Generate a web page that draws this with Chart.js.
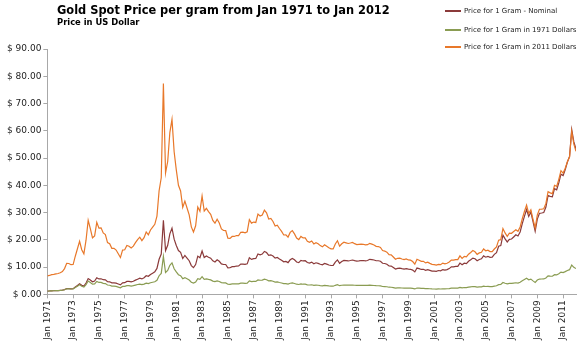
<!DOCTYPE html>
<html>
<head>
<meta charset="utf-8">
<script src="https://cdn.jsdelivr.net/npm/chart.js@4.4.1/dist/chart.umd.min.js"></script>
<style>
  html, body { margin: 0; padding: 0; background: #fff; }
  #wrap { position: relative; width: 584px; height: 346px; overflow: hidden; font-family: "DejaVu Sans", sans-serif; }
  #c { position: absolute; left: 0; top: 0; }
  #title { position: absolute; left: 57px; top: 5px; font-size: 11.4px; font-weight: bold; line-height: 1; color: #000; white-space: nowrap; }
  #subtitle { position: absolute; left: 57px; top: 18px; font-size: 8.4px; font-weight: bold; line-height: 1; color: #000; white-space: nowrap; }
  .leg { position: absolute; left: 445px; height: 10px; display: flex; align-items: center; font-size: 7px; color: #222; white-space: nowrap; }
  .leg span.sw { display: inline-block; width: 16px; height: 1.3px; margin-right: 3px; }
</style>
</head>
<body>
<div id="wrap">
  <canvas id="c" width="584" height="346"></canvas>
  <div id="title">Gold Spot Price per gram from Jan 1971 to Jan 2012</div>
  <div id="subtitle">Price in US Dollar</div>
  <div class="leg" style="top:6px"><span class="sw" style="background:#8b3a3a"></span>Price for 1 Gram - Nominal</div>
  <div class="leg" style="top:25px"><span class="sw" style="background:#8a9c52"></span>Price for 1 Gram in 1971 Dollars</div>
  <div class="leg" style="top:42px"><span class="sw" style="background:#e8782a"></span>Price for 1 Gram in 2011 Dollars</div>
</div>
<script>
// Sampling: every 2 months (Jan, Mar, May, Jul, Sep, Nov) from Jan 1971 to Jan 2012
const startYear = 1971;
const stepMonths = 2;

const seriesNames = ["Price for 1 Gram - Nominal", "Price for 1 Gram in 1971 Dollars", "Price for 1 Gram in 2011 Dollars"];

const tickYears = [1971,1973,1975,1977,1979,1981,1983,1985,1987,1989,1991,1993,1995,1997,1999,2001,2003,2005,2007,2009,2011];

const yTicks = [0,10,20,30,40,50,60,70,80,90];

const nominal = [
  1.22,1.25,1.30,1.32,1.35,1.38,
  1.47,1.55,1.76,2.11,2.11,2.02,
  2.09,2.71,3.28,3.86,3.31,3.05,
  4.15,5.79,5.24,4.60,4.86,6.11,
  5.66,5.72,5.37,5.31,4.63,4.60,
  4.21,4.24,4.12,3.79,3.47,4.21,
  4.28,4.76,4.73,4.60,4.82,5.21,
  5.56,5.92,5.66,6.08,6.82,6.62,
  7.30,7.78,8.26,9.52,12.86,14.79,
  27.17,16.08,18.01,22.19,24.28,20.26,
  17.91,16.08,15.43,13.15,14.28,13.31,
  12.35,10.55,9.81,10.93,14.02,13.44,
  15.92,13.50,14.05,13.60,13.25,12.28,
  11.90,12.67,12.12,11.19,10.96,10.96,
  9.74,9.77,10.16,10.19,10.39,10.45,
  11.09,11.09,11.00,11.19,13.41,12.83,
  13.12,13.15,14.79,14.50,14.79,15.76,
  15.34,14.28,14.50,14.05,13.28,13.54,
  12.99,12.54,11.93,12.06,11.64,12.67,
  13.18,12.67,11.86,11.64,12.48,12.25,
  12.35,11.67,11.48,11.83,11.22,11.58,
  11.38,11.06,10.84,11.35,11.09,10.77,
  10.58,10.61,11.83,12.64,11.41,12.03,
  12.44,12.35,12.25,12.41,12.60,12.35,
  12.19,12.28,12.41,12.41,12.32,12.41,
  12.86,12.73,12.60,12.32,12.32,12.15,
  11.41,11.32,11.06,10.42,10.39,9.84,
  9.29,9.55,9.61,9.42,9.29,9.45,
  9.23,9.20,8.91,8.23,9.65,9.42,
  9.13,9.20,8.84,9.07,8.81,8.55,
  8.55,8.46,8.75,8.62,9.10,8.87,
  9.07,9.45,10.10,10.10,10.26,10.26,
  11.45,10.84,11.41,11.29,12.15,12.67,
  13.31,13.05,12.35,12.80,13.05,14.12,
  13.63,13.95,13.57,13.63,14.66,15.31,
  17.65,17.91,21.74,20.35,19.23,20.19,
  20.29,21.06,21.86,21.41,22.89,25.92,
  28.59,31.13,28.59,30.19,26.66,23.15,
  27.59,29.71,29.84,30.03,32.03,36.27,
  35.95,35.79,38.75,38.36,40.87,44.08,
  43.60,45.79,48.55,50.58,60.45,55.92,
  53.25
];

const dollars1971 = [
  1.22,1.25,1.30,1.32,1.35,1.38,
  1.43,1.50,1.70,2.05,2.04,1.96,
  1.97,2.52,3.01,3.50,2.95,2.68,
  3.58,4.89,4.34,3.73,3.86,4.75,
  4.37,4.39,4.06,3.95,3.42,3.35,
  3.04,3.04,2.93,2.68,2.43,2.92,
  2.94,3.22,3.18,3.06,3.19,3.41,
  3.61,3.78,3.55,3.74,4.12,3.93,
  4.25,4.44,4.63,5.17,6.84,7.70,
  13.92,8.01,8.77,10.68,11.55,9.41,
  8.22,7.20,6.83,5.74,6.15,5.70,
  5.25,4.46,4.12,4.53,5.77,5.49,
  6.49,5.50,5.68,5.47,5.29,4.88,
  4.70,4.96,4.72,4.32,4.22,4.20,
  3.71,3.69,3.82,3.82,3.88,3.88,
  4.10,4.11,4.06,4.13,4.93,4.70,
  4.77,4.75,5.30,5.17,5.24,5.56,
  5.38,4.97,5.01,4.81,4.51,4.57,
  4.35,4.16,3.92,3.93,3.78,4.09,
  4.21,3.99,3.72,3.62,3.83,3.72,
  3.73,3.51,3.44,3.52,3.33,3.41,
  3.35,3.22,3.14,3.27,3.18,3.08,
  3.01,3.00,3.32,3.54,3.18,3.34,
  3.44,3.40,3.36,3.39,3.43,3.35,
  3.29,3.30,3.31,3.31,3.27,3.28,
  3.37,3.31,3.26,3.17,3.16,3.10,
  2.89,2.86,2.79,2.62,2.61,2.47,
  2.32,2.38,2.39,2.34,2.30,2.33,
  2.27,2.26,2.17,1.99,2.32,2.26,
  2.18,2.18,2.08,2.12,2.05,1.98,
  1.96,1.93,1.98,1.96,2.06,2.02,
  2.06,2.13,2.27,2.27,2.30,2.30,
  2.54,2.38,2.51,2.48,2.65,2.77,
  2.89,2.81,2.64,2.74,2.78,3.00,
  2.88,2.91,2.83,2.82,3.00,3.14,
  3.58,3.61,4.34,4.06,3.83,4.05,
  4.03,4.15,4.26,4.16,4.45,4.99,
  5.47,5.89,5.34,5.58,4.95,4.38,
  5.25,5.62,5.63,5.65,6.01,6.78,
  6.70,6.65,7.20,7.13,7.60,8.17,
  8.01,8.33,8.75,9.06,10.76,9.92,
  9.45
];

const dollars2011 = [
  6.77,6.94,7.23,7.32,7.50,7.66,
  7.92,8.36,9.45,11.37,11.33,10.88,
  10.94,13.99,16.73,19.44,16.38,14.88,
  19.87,27.18,24.12,20.74,21.44,26.41,
  24.29,24.39,22.55,21.95,19.01,18.59,
  16.90,16.90,16.26,14.87,13.50,16.24,
  16.36,17.91,17.64,17.02,17.70,18.95,
  20.07,20.98,19.71,20.79,22.90,21.84,
  23.61,24.68,25.70,28.71,38.00,42.78,
  77.32,44.50,48.72,59.34,64.18,52.29,
  45.67,40.00,37.92,31.90,34.19,31.67,
  29.18,24.76,22.88,25.16,32.05,30.51,
  36.04,30.53,31.55,30.37,29.38,27.12,
  26.09,27.58,26.20,24.01,23.43,23.36,
  20.60,20.52,21.24,21.24,21.58,21.55,
  22.77,22.84,22.57,22.97,27.40,26.13,
  26.52,26.38,29.44,28.73,29.12,30.87,
  29.91,27.62,27.83,26.74,25.07,25.39,
  24.16,23.09,21.78,21.86,21.00,22.73,
  23.37,22.18,20.66,20.09,21.26,20.69,
  20.74,19.49,19.10,19.58,18.50,18.97,
  18.59,17.89,17.42,18.18,17.66,17.09,
  16.71,16.67,18.47,19.65,17.68,18.55,
  19.12,18.89,18.67,18.84,19.05,18.59,
  18.27,18.34,18.41,18.37,18.15,18.22,
  18.72,18.41,18.11,17.62,17.54,17.20,
  16.08,15.88,15.48,14.58,14.50,13.71,
  12.89,13.22,13.28,12.98,12.77,12.97,
  12.63,12.53,12.05,11.08,12.90,12.54,
  12.13,12.10,11.55,11.79,11.37,10.99,
  10.91,10.73,11.02,10.88,11.46,11.21,
  11.42,11.85,12.59,12.59,12.76,12.76,
  14.13,13.21,13.95,13.76,14.74,15.37,
  16.06,15.63,14.67,15.20,15.43,16.64,
  15.98,16.19,15.70,15.69,16.64,17.42,
  19.87,20.05,24.13,22.53,21.29,22.48,
  22.40,23.06,23.66,23.11,24.71,27.73,
  30.40,32.72,29.69,30.99,27.52,24.34,
  29.17,31.23,31.27,31.38,33.37,37.68,
  37.23,36.95,40.01,39.61,42.20,45.38,
  44.48,46.28,48.62,50.34,59.78,55.13,
  52.50
];

const colors = ["#8b3a3a", "#8a9c52", "#e8782a"];

function toPoints(arr) {
  return arr.map((v, i) => ({ x: startYear + (i * stepMonths) / 12, y: v }));
}

const axisColor = "#a8a8a8";
const tickFont = { family: "DejaVu Sans", size: 9 };

new Chart(document.getElementById("c"), {
  type: "line",
  data: {
    datasets: [
      { label: seriesNames[0], data: toPoints(nominal), borderColor: colors[0], order: 2 },
      { label: seriesNames[1], data: toPoints(dollars1971), borderColor: colors[1], order: 1 },
      { label: seriesNames[2], data: toPoints(dollars2011), borderColor: colors[2], order: 0 }
    ]
  },
  options: {
    responsive: false,
    animation: false,
    events: [],
    layout: { padding: { left: 5, right: 8, top: 49, bottom: 4 } },
    elements: {
      line: { borderWidth: 1.2, tension: 0, fill: false },
      point: { radius: 0 }
    },
    plugins: { legend: { display: false }, title: { display: false }, tooltip: { enabled: false } },
    scales: {
      x: {
        type: "linear",
        min: 1971,
        max: 2012,
        afterBuildTicks: (scale) => { scale.ticks = tickYears.map(v => ({ value: v })); },
        ticks: {
          autoSkip: false,
          minRotation: 90,
          maxRotation: 90,
          padding: 2,
          color: "#222",
          font: tickFont,
          callback: (v) => "Jan " + v
        },
        grid: { display: true, drawOnChartArea: false, drawTicks: true, tickLength: 4, color: axisColor },
        border: { display: true, color: axisColor }
      },
      y: {
        min: 0,
        max: 90,
        afterBuildTicks: (scale) => { scale.ticks = yTicks.map(v => ({ value: v })); },
        ticks: {
          padding: 2,
          color: "#222",
          font: tickFont,
          callback: (v) => "$ " + Number(v).toFixed(2)
        },
        grid: { display: true, drawOnChartArea: false, drawTicks: true, tickLength: 4, color: axisColor },
        border: { display: true, color: axisColor }
      }
    }
  }
});
</script>
</body>
</html>
